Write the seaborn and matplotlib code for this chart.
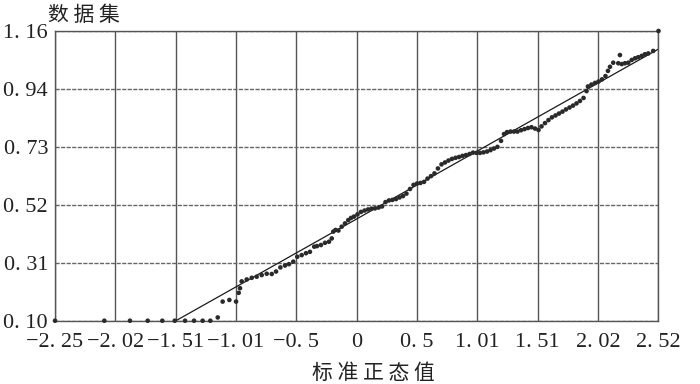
import seaborn as sns
import matplotlib.pyplot as plt
import pandas as pd

# theoretical normal quantiles (x) and sorted sample values (y)
quantiles = [
    -2.520, -2.108, -1.894, -1.746, -1.624, -1.520, -1.434, -1.359, -1.287, -1.223,
    -1.161, -1.120, -1.064, -1.008, -0.986, -0.975, -0.961, -0.919, -0.877, -0.836,
    -0.794, -0.752, -0.710, -0.674, -0.638, -0.599, -0.566, -0.530, -0.497, -0.460,
    -0.424, -0.391, -0.355, -0.332, -0.299, -0.265, -0.232, -0.209, -0.196, -0.178,
    -0.153, -0.126, -0.098, -0.071, -0.048, -0.023, 0.006, 0.035, 0.065, 0.094,
    0.123, 0.152, 0.182, 0.211, 0.240, 0.269, 0.298, 0.328, 0.357, 0.386,
    0.415, 0.445, 0.474, 0.503, 0.532, 0.562, 0.591, 0.620, 0.649, 0.678,
    0.708, 0.737, 0.766, 0.795, 0.825, 0.854, 0.883, 0.912, 0.942, 0.971,
    1.000, 1.029, 1.058, 1.088, 1.117, 1.146, 1.175, 1.205, 1.230, 1.255,
    1.284, 1.313, 1.342, 1.372, 1.401, 1.430, 1.459, 1.489, 1.518, 1.543,
    1.572, 1.601, 1.630, 1.660, 1.689, 1.718, 1.747, 1.777, 1.806, 1.835,
    1.864, 1.894, 1.919, 1.931, 1.960, 1.990, 2.019, 2.048, 2.077, 2.098,
    2.115, 2.142, 2.184, 2.198, 2.213, 2.240, 2.268, 2.296, 2.324, 2.351,
    2.380, 2.407, 2.435, 2.476, 2.520,
]
values = [
    0.100, 0.100, 0.100, 0.100, 0.100, 0.100, 0.100, 0.100, 0.100, 0.100,
    0.112, 0.170, 0.176, 0.170, 0.202, 0.219, 0.244, 0.251, 0.257, 0.261,
    0.267, 0.272, 0.271, 0.280, 0.295, 0.302, 0.307, 0.316, 0.334, 0.340,
    0.347, 0.352, 0.371, 0.373, 0.377, 0.385, 0.389, 0.401, 0.426, 0.432,
    0.430, 0.444, 0.456, 0.468, 0.476, 0.481, 0.489, 0.498, 0.503, 0.507,
    0.510, 0.511, 0.514, 0.518, 0.534, 0.540, 0.542, 0.545, 0.551, 0.556,
    0.565, 0.582, 0.597, 0.602, 0.604, 0.608, 0.620, 0.629, 0.639, 0.657,
    0.672, 0.679, 0.686, 0.692, 0.696, 0.699, 0.703, 0.706, 0.710, 0.715,
    0.714, 0.714, 0.716, 0.719, 0.724, 0.730, 0.736, 0.758, 0.783, 0.790,
    0.792, 0.792, 0.792, 0.797, 0.801, 0.805, 0.808, 0.803, 0.798, 0.811,
    0.823, 0.834, 0.844, 0.851, 0.858, 0.865, 0.873, 0.880, 0.887, 0.895,
    0.904, 0.915, 0.940, 0.957, 0.964, 0.970, 0.975, 0.983, 0.995, 1.014,
    1.029, 1.044, 1.042, 1.072, 1.039, 1.042, 1.044, 1.054, 1.060, 1.064,
    1.069, 1.075, 1.078, 1.087, 1.160,
]

# reference line end points
line_x = [-2.52, 2.52]
line_y = [-0.149, 1.094]

x_ticks = [-2.52, -2.016, -1.512, -1.008, -0.504, 0, 0.504, 1.008, 1.512, 2.016, 2.52]
x_labels = ['−2. 25', '−2. 02', '−1. 51', '−1. 01', '−0. 5', '0', '0. 5',
            '1. 01', '1. 51', '2. 02', '2. 52']
y_ticks = [0.10, 0.312, 0.524, 0.736, 0.948, 1.16]
y_labels = ['0. 10', '0. 31', '0. 52', '0. 73', '0. 94', '1. 16']

sns.set_style('white')
plt.rcParams['font.family'] = ['Noto Sans CJK SC', 'DejaVu Sans']

df = pd.DataFrame({'q': quantiles, 'v': values})

fig = plt.figure(figsize=(7, 3.84), dpi=100)
ax = fig.add_axes([0.0786, 0.1648, 0.8621, 0.7545])

sns.lineplot(x=line_x, y=line_y, ax=ax, color='#1a1a1a', linewidth=0.9)
sns.scatterplot(data=df, x='q', y='v', ax=ax, color='#2a2a2a', s=11,
                edgecolor='none', zorder=3, clip_on=False)

ax.set_xlim(-2.52, 2.52)
ax.set_ylim(0.10, 1.16)
ax.set_xticks(x_ticks)
ax.set_xticklabels(x_labels, family='Liberation Serif', fontsize=16)
ax.set_yticks(y_ticks)
ax.set_yticklabels(y_labels, family='Liberation Serif', fontsize=16)
ax.tick_params(axis='x', length=0, pad=9, colors='#222222')
ax.tick_params(axis='y', length=0, pad=5, colors='#222222')

ax.xaxis.grid(True, color='#555555', linewidth=1.0)
ax.yaxis.grid(True, color='#666666', linewidth=1.0, linestyle=(0, (3, 1)))
ax.set_axisbelow(True)
for sp in ax.spines.values():
    sp.set_color('#555555')
    sp.set_linewidth(1.0)

ax.set_xlabel('标 准 正 态 值', fontsize=15, color='#222222', labelpad=7, x=0.527)
ax.set_ylabel('')
fig.text(0.068, 0.945, '数 据 集', fontsize=15, color='#222222')

fig.savefig('out.png', dpi=100)
